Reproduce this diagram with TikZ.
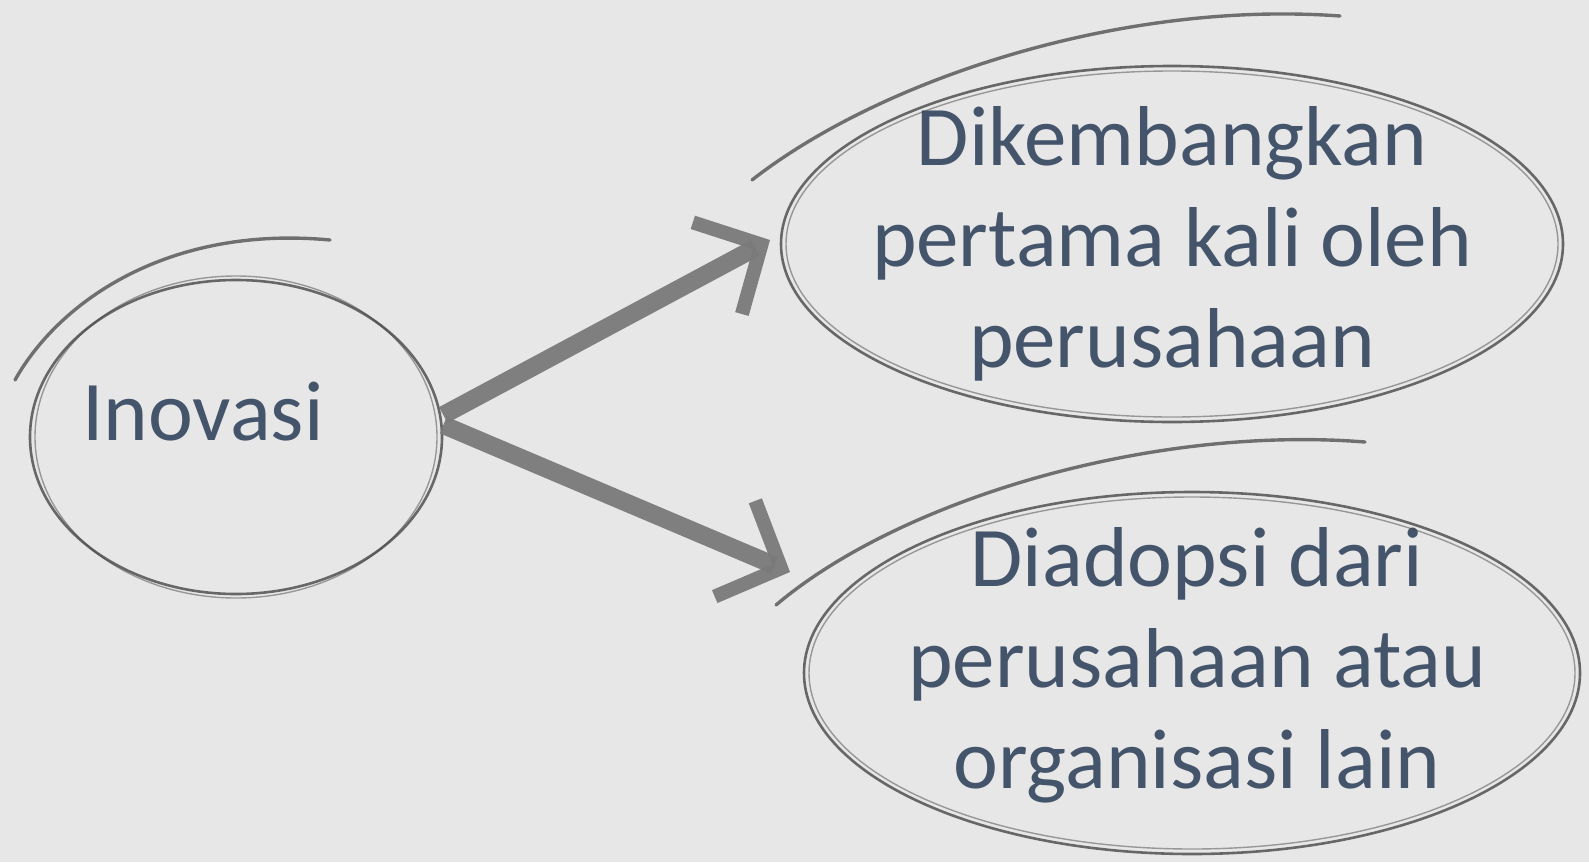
\documentclass[tikz,border=0pt]{standalone}
\usepackage{fontspec}
\setmainfont{Carlito}
\usetikzlibrary{shapes.geometric,arrows.meta}
\definecolor{bgc}{HTML}{E7E7E7}
\definecolor{txt}{HTML}{44546A}
\definecolor{pencil}{HTML}{484848}
\definecolor{arrowc}{HTML}{7A7A7A}
\tikzset{
  bubble/.style={ellipse, draw=pencil, line width=2.6pt, draw opacity=0.8, inner sep=0pt},
  pencilstroke/.style={draw=pencil, line width=3.4pt, opacity=0.75, line cap=round},
  pencilthin/.style={draw=pencil, line width=1.4pt, opacity=0.5, line cap=round},
  label/.style={text=txt, align=center, font=\fontsize{85}{101}\selectfont},
  bigarrow/.style={draw=arrowc, line width=18pt, opacity=0.95,
    -{Straight Barb[length=50pt,width=104pt,line width=14pt]}}
}
\begin{document}
\begin{tikzpicture}[x=1pt,y=-1pt]
\useasboundingbox (0,0) rectangle (1589,862);
\fill[bgc] (0,0) rectangle (1589,862);

% bubbles
\node[bubble, minimum width=412pt, minimum height=314pt] (ino) at (236,437) {};
\node[bubble, minimum width=782pt, minimum height=356pt] (top) at (1172,244) {};
\node[bubble, minimum width=776pt, minimum height=362pt] (bot) at (1192,673) {};

% texts
\node[label] (inotext) at (203,412) {Inovasi};
\node[label] (toptext) at (1172,244) {Dikembangkan\\pertama kali oleh\\perusahaan};
\node[label] (bottext) at (1197,665) {Diadopsi dari\\perusahaan atau\\organisasi lain};

% extra pencil passes
\draw[pencilthin] (236,437) ellipse [x radius=201pt, y radius=161pt];
\draw[pencilthin] (1172,244) ellipse [x radius=386pt, y radius=173pt];
\draw[pencilthin] (1192,673) ellipse [x radius=383pt, y radius=176pt];

% over-drawn tails
\draw[pencilstroke] (15,380) .. controls (60,300) and (170,225) .. (330,240);
\draw[pencilstroke] (752,180) .. controls (880,80) and (1120,0) .. (1340,16);
\draw[pencilstroke] (776,605) .. controls (900,500) and (1150,425) .. (1365,442);

% connectors
\coordinate (t1) at (770,240);
\coordinate (t2) at (790,572);
\draw[bigarrow] ([yshift=22pt]ino.east) -- (t1);
\draw[bigarrow] ([yshift=12pt]ino.east) -- (t2);
\end{tikzpicture}
\end{document}
